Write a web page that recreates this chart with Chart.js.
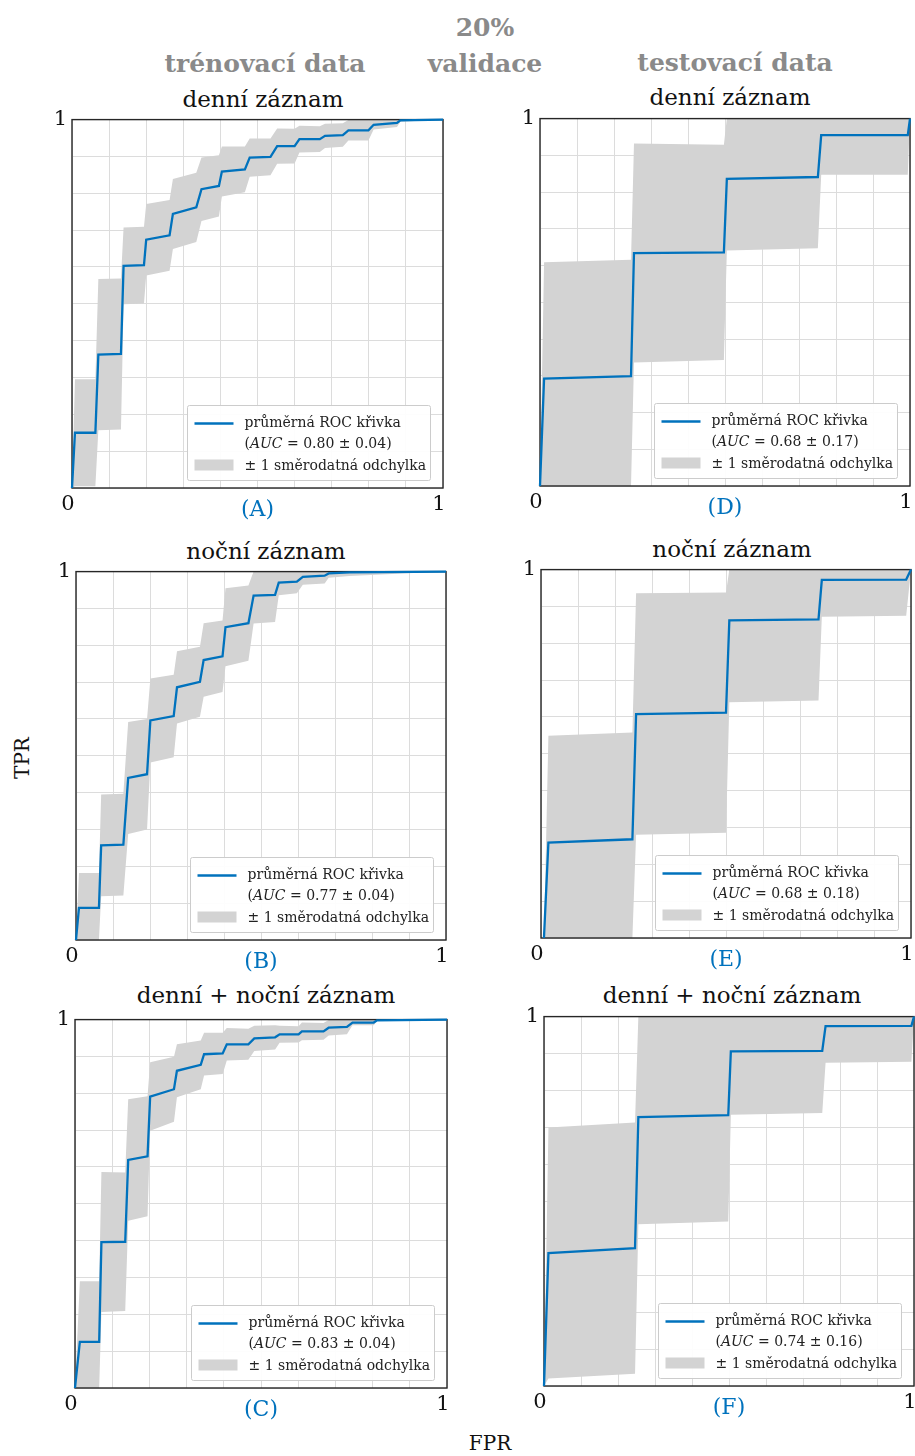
<!DOCTYPE html>
<html>
<head>
<meta charset="utf-8">
<script src="https://cdn.jsdelivr.net/npm/chart.js@4.4.1/dist/chart.umd.min.js"></script>
<style>
  body { margin: 0; width: 915px; height: 1456px; position: relative; overflow: hidden; background: #fff; font-family: "DejaVu Serif", serif; }
  .hdr { position: absolute; transform: translate(-50%, -50%); font-weight: bold; font-size: 25px; color: #8a8a8a; white-space: nowrap; }
  .ttl { position: absolute; transform: translate(-50%, -50%); font-size: 23px; color: #111; white-space: nowrap; }
  .axl { position: absolute; transform: translate(-50%, -50%); font-size: 20px; color: #111; white-space: nowrap; }
  canvas { position: absolute; }
</style>
</head>
<body>
<div class="hdr" style="left:485px;top:27px">20%</div>
<div class="hdr" style="left:265px;top:63px">trénovací data</div>
<div class="hdr" style="left:485px;top:63px">validace</div>
<div class="hdr" style="left:735px;top:62px">testovací data</div>

<div class="ttl" style="left:263px;top:99px">denní záznam</div>
<div class="ttl" style="left:730px;top:97px">denní záznam</div>
<div class="ttl" style="left:266px;top:551px">noční záznam</div>
<div class="ttl" style="left:732px;top:549px">noční záznam</div>
<div class="ttl" style="left:266px;top:995px">denní + noční záznam</div>
<div class="ttl" style="left:732px;top:995px">denní + noční záznam</div>

<div class="axl" style="left:22px;top:758px;transform:translate(-50%,-50%) rotate(-90deg)">TPR</div>
<div class="axl" style="left:490px;top:1443px">FPR</div>

<script>
// mean ROC curves (FPR, mean TPR, std of TPR)
const fprA = [0, 0.008, 0.063, 0.071, 0.132, 0.139, 0.194, 0.200, 0.263, 0.272, 0.335, 0.349, 0.396, 0.404, 0.466, 0.479, 0.535, 0.553, 0.600, 0.613, 0.668, 0.682, 0.730, 0.745, 0.799, 0.813, 0.876, 0.885, 1];
const tprA = [0, 0.150, 0.150, 0.362, 0.364, 0.603, 0.605, 0.674, 0.686, 0.744, 0.762, 0.811, 0.820, 0.859, 0.865, 0.897, 0.899, 0.928, 0.928, 0.947, 0.947, 0.956, 0.958, 0.971, 0.971, 0.986, 0.991, 0.998, 1];
const stdA = [0, 0.145, 0.145, 0.205, 0.205, 0.104, 0.104, 0.097, 0.096, 0.095, 0.094, 0.086, 0.083, 0.068, 0.062, 0.052, 0.050, 0.048, 0.047, 0.036, 0.035, 0.033, 0.032, 0.028, 0.028, 0.013, 0.011, 0.004, 0];

const fprB = [0, 0.008, 0.062, 0.068, 0.128, 0.141, 0.192, 0.201, 0.264, 0.273, 0.335, 0.345, 0.396, 0.404, 0.466, 0.480, 0.538, 0.548, 0.597, 0.613, 0.672, 0.683, 0.739, 1];
const tprB = [0, 0.087, 0.087, 0.257, 0.259, 0.440, 0.450, 0.596, 0.608, 0.686, 0.701, 0.760, 0.770, 0.849, 0.860, 0.935, 0.937, 0.970, 0.973, 0.986, 0.989, 0.995, 0.998, 1];
const stdB = [0, 0.095, 0.095, 0.138, 0.138, 0.152, 0.150, 0.114, 0.112, 0.098, 0.095, 0.100, 0.097, 0.106, 0.102, 0.076, 0.074, 0.034, 0.032, 0.022, 0.021, 0.012, 0.010, 0];

const fprC = [0, 0.013, 0.065, 0.071, 0.135, 0.143, 0.195, 0.202, 0.266, 0.274, 0.338, 0.347, 0.397, 0.408, 0.466, 0.482, 0.538, 0.550, 0.601, 0.610, 0.668, 0.682, 0.731, 0.746, 0.803, 0.812, 1];
const tprC = [0, 0.125, 0.125, 0.396, 0.397, 0.619, 0.629, 0.791, 0.811, 0.861, 0.877, 0.906, 0.908, 0.933, 0.933, 0.949, 0.952, 0.960, 0.960, 0.968, 0.968, 0.978, 0.980, 0.992, 0.992, 0.998, 1];
const stdC = [0, 0.165, 0.165, 0.190, 0.188, 0.165, 0.163, 0.093, 0.088, 0.072, 0.066, 0.058, 0.056, 0.044, 0.042, 0.034, 0.033, 0.023, 0.022, 0.024, 0.023, 0.021, 0.020, 0.007, 0.007, 0.002, 0];

const fprD = [0, 0.011, 0.246, 0.254, 0.497, 0.505, 0.751, 0.760, 0.994, 1];
const tprD = [0, 0.292, 0.299, 0.634, 0.636, 0.836, 0.841, 0.955, 0.955, 1];
const stdD = [0, 0.317, 0.317, 0.298, 0.293, 0.195, 0.194, 0.108, 0.108, 0];

const fprE = [0.008, 0.020, 0.247, 0.257, 0.500, 0.509, 0.750, 0.759, 0.987, 1];
const tprE = [0, 0.259, 0.268, 0.608, 0.612, 0.862, 0.865, 0.972, 0.973, 1];
const stdE = [0, 0.290, 0.290, 0.328, 0.326, 0.222, 0.220, 0.100, 0.098, 0];

const fprF = [0, 0.012, 0.246, 0.255, 0.498, 0.505, 0.752, 0.761, 0.993, 1];
const tprF = [0, 0.360, 0.373, 0.728, 0.733, 0.906, 0.907, 0.974, 0.975, 1];
const stdF = [0, 0.340, 0.340, 0.290, 0.288, 0.172, 0.168, 0.099, 0.097, 0];

const panelLabels = ['(A)', '(B)', '(C)', '(D)', '(E)', '(F)'];
const aucMean = [0.80, 0.77, 0.83, 0.68, 0.68, 0.74];
const aucStd = [0.04, 0.04, 0.04, 0.17, 0.18, 0.16];
const xTickLabels = ['0', '1'];
const yTickLabels = ['1'];

const serif = '"DejaVu Serif", serif';
const blue = '#0072BD';
const bandGray = '#d3d3d3';

// plot rectangles [left, top, right, bottom] in page pixels
const panels = [
  { fpr: fprA, tpr: tprA, std: stdA, rect: [72, 118, 443, 488] },
  { fpr: fprB, tpr: tprB, std: stdB, rect: [76, 570, 446, 940] },
  { fpr: fprC, tpr: tprC, std: stdC, rect: [75, 1018, 447, 1388] },
  { fpr: fprD, tpr: tprD, std: stdD, rect: [540, 117, 910, 486] },
  { fpr: fprE, tpr: tprE, std: stdE, rect: [541, 568, 911, 938] },
  { fpr: fprF, tpr: tprF, std: stdF, rect: [544, 1015, 914, 1386] }
];

const Y_W = 40, PAD_T = 16, PAD_R = 16, X_H = 48;

const framePlugin = {
  id: 'frame',
  afterDatasetDraw(chart, args) {
    if (args.index !== 1) return;
    const a = chart.chartArea, ctx = chart.ctx;
    ctx.save();
    ctx.strokeStyle = '#262626';
    ctx.lineWidth = 1.4;
    ctx.strokeRect(a.left, a.top, a.right - a.left, a.bottom - a.top);
    ctx.restore();
  }
};

const rocLegend = {
  id: 'rocLegend',
  afterDatasetsDraw(chart, args, opts) {
    const { ctx, chartArea: a } = chart;
    const w = 243, h = 75;
    const x = Math.round(a.right - 13 - w) + 0.5, y = Math.round(a.bottom - 8 - h) + 0.5;
    ctx.save();
    ctx.fillStyle = 'rgba(255,255,255,0.92)';
    ctx.strokeStyle = '#cccccc';
    ctx.lineWidth = 1;
    ctx.beginPath();
    ctx.roundRect(x, y, w, h, 2);
    ctx.fill();
    ctx.stroke();

    ctx.strokeStyle = blue;
    ctx.lineWidth = 2.5;
    ctx.beginPath();
    ctx.moveTo(x + 7, y + 18);
    ctx.lineTo(x + 46, y + 18);
    ctx.stroke();
    ctx.fillStyle = bandGray;
    ctx.fillRect(x + 7, y + 54, 39, 11);

    ctx.fillStyle = '#222';
    ctx.textBaseline = 'middle';
    ctx.font = '14px ' + serif;
    const tx = x + 57;
    ctx.fillText('průměrná ROC křivka', tx, y + 18);
    let cx = tx;
    ctx.fillText('(', cx, y + 39);
    cx += ctx.measureText('(').width;
    ctx.font = 'italic 14px ' + serif;
    ctx.fillText('AUC', cx, y + 39);
    cx += ctx.measureText('AUC').width;
    ctx.font = '14px ' + serif;
    ctx.fillText(' = ' + opts.mean.toFixed(2) + ' ± ' + opts.sd.toFixed(2) + ')', cx, y + 39);
    ctx.fillText('± 1 směrodatná odchylka', tx, y + 61);
    ctx.restore();
  }
};

panels.forEach((p, i) => {
  const [L, T, R, B] = p.rect;
  const cv = document.createElement('canvas');
  const w = (R - L) + Y_W + PAD_R, h = (B - T) + PAD_T + X_H;
  cv.width = w; cv.height = h;
  cv.style.left = (L - Y_W) + 'px';
  cv.style.top = (T - PAD_T) + 'px';
  cv.style.width = w + 'px';
  cv.style.height = h + 'px';
  document.body.appendChild(cv);

  const mean = p.fpr.map((x, k) => ({ x: x, y: p.tpr[k] }));
  const upper = p.fpr.map((x, k) => ({ x: x, y: Math.min(1, p.tpr[k] + p.std[k]) }));
  const lower = p.fpr.map((x, k) => ({ x: x, y: Math.max(0, p.tpr[k] - p.std[k]) }));

  new Chart(cv, {
    type: 'line',
    data: {
      datasets: [
        { data: mean, borderColor: blue, borderWidth: 2.3, pointRadius: 0, fill: false, tension: 0, clip: 4 },
        { data: upper, borderColor: 'transparent', borderWidth: 0, pointRadius: 0, backgroundColor: bandGray, fill: '+1', tension: 0 },
        { data: lower, borderColor: 'transparent', borderWidth: 0, pointRadius: 0, fill: false, tension: 0 }
      ]
    },
    options: {
      responsive: false,
      animation: false,
      devicePixelRatio: 1,
      layout: { padding: { top: PAD_T, right: PAD_R, left: 0, bottom: 0 } },
      plugins: {
        legend: { display: false },
        tooltip: { enabled: false },
        rocLegend: { mean: aucMean[i], sd: aucStd[i] }
      },
      scales: {
        x: {
          type: 'linear', min: 0, max: 1,
          border: { display: false },
          grid: { color: '#dcdcdc', lineWidth: 1, drawTicks: false },
          ticks: {
            stepSize: 0.1, autoSkip: false, maxRotation: 0, padding: 4, labelOffset: -4,
            color: '#111', font: { family: serif, size: 21 },
            callback: v => Math.abs(v) < 1e-6 ? xTickLabels[0] : (Math.abs(v - 1) < 1e-6 ? xTickLabels[1] : '')
          },
          title: {
            display: true, text: panelLabels[i], color: blue,
            font: { family: serif, size: 22 }, padding: { top: 0, bottom: 13 }
          },
          afterFit: s => { s.height = X_H; }
        },
        y: {
          type: 'linear', min: 0, max: 1,
          border: { display: false },
          grid: { color: '#dcdcdc', lineWidth: 1, drawTicks: false },
          ticks: {
            stepSize: 0.1, autoSkip: false, padding: 5,
            color: '#111', font: { family: serif, size: 21 },
            callback: v => Math.abs(v - 1) < 1e-6 ? yTickLabels[0] : ''
          },
          afterFit: s => { s.width = Y_W; }
        }
      }
    },
    plugins: [framePlugin, rocLegend]
  });
});
</script>
</body>
</html>
